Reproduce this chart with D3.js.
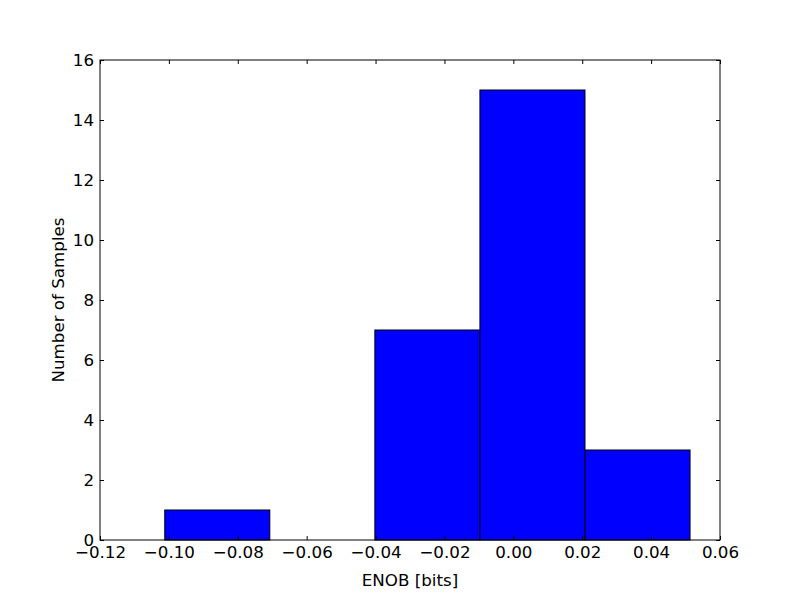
<!DOCTYPE html>
<html>
<head>
<meta charset="utf-8">
<script src="https://cdn.jsdelivr.net/npm/d3@7"></script>
<style>
  body { margin: 0; background: #fff; }
  svg text { font-family: "DejaVu Sans", sans-serif; }
</style>
</head>
<body>
<div id="chart"></div>
<script>
// histogram bins
const binEdges = [-0.1012, -0.0707, -0.0402, -0.0097, 0.0208, 0.0513];
const counts = [1, 0, 7, 15, 3];
const xTicks = [-0.12, -0.10, -0.08, -0.06, -0.04, -0.02, 0.00, 0.02, 0.04, 0.06];
const yTicks = [0, 2, 4, 6, 8, 10, 12, 14, 16];

const bins = counts.map((c, i) => ({ x0: binEdges[i], x1: binEdges[i + 1], count: c }));

const margin = { top: 60, right: 80, bottom: 60, left: 100 };
const W = 800, H = 600;
const width = W - margin.left - margin.right;
const height = H - margin.top - margin.bottom;
const fontSize = "16.7px"; // 12pt at 100 dpi

const svg = d3.select("#chart").append("svg")
    .attr("width", W)
    .attr("height", H);

const g = svg.append("g")
    .attr("transform", `translate(${margin.left},${margin.top})`);

const x = d3.scaleLinear().domain([-0.12, 0.06]).range([0, width]);
const y = d3.scaleLinear().domain([0, 16]).range([height, 0]);

// bars
g.selectAll(".bar")
    .data(bins.filter(d => d.count > 0))
    .enter().append("rect")
    .attr("class", "bar")
    .attr("x", d => x(d.x0))
    .attr("y", d => y(d.count))
    .attr("width", d => x(d.x1) - x(d.x0))
    .attr("height", d => y(0) - y(d.count))
    .attr("fill", "#0000ff")
    .attr("stroke", "#000")
    .attr("stroke-width", 1);

const fmtX = d3.format(".2f");
const tickLen = 4;

// bottom axis, ticks inward
const xAxis = g.append("g")
    .attr("transform", `translate(0,${height})`)
    .call(d3.axisBottom(x).tickValues(xTicks).tickFormat(fmtX).tickSize(-tickLen).tickPadding(6));
// top ticks
const xTop = g.append("g")
    .call(d3.axisTop(x).tickValues(xTicks).tickFormat("").tickSize(-tickLen));

const yAxis = g.append("g")
    .call(d3.axisLeft(y).tickValues(yTicks).tickFormat(d3.format("d")).tickSize(-tickLen).tickPadding(6));
const yRight = g.append("g")
    .attr("transform", `translate(${width},0)`)
    .call(d3.axisRight(y).tickValues(yTicks).tickFormat("").tickSize(-tickLen));

[xAxis, xTop, yAxis, yRight].forEach(a => {
    a.select(".domain").remove();
    a.selectAll("text").style("font-size", fontSize).attr("fill", "#000");
    a.selectAll("line").attr("stroke", "#000");
});

// frame
g.append("rect")
    .attr("width", width)
    .attr("height", height)
    .attr("fill", "none")
    .attr("stroke", "#000")
    .attr("stroke-width", 1);

// labels
svg.append("text")
    .attr("x", margin.left + width / 2)
    .attr("y", 586)
    .attr("text-anchor", "middle")
    .style("font-size", fontSize)
    .text("ENOB [bits]");

svg.append("text")
    .attr("transform", `translate(64,${margin.top + height / 2}) rotate(-90)`)
    .attr("text-anchor", "middle")
    .style("font-size", fontSize)
    .text("Number of Samples");
</script>
</body>
</html>
